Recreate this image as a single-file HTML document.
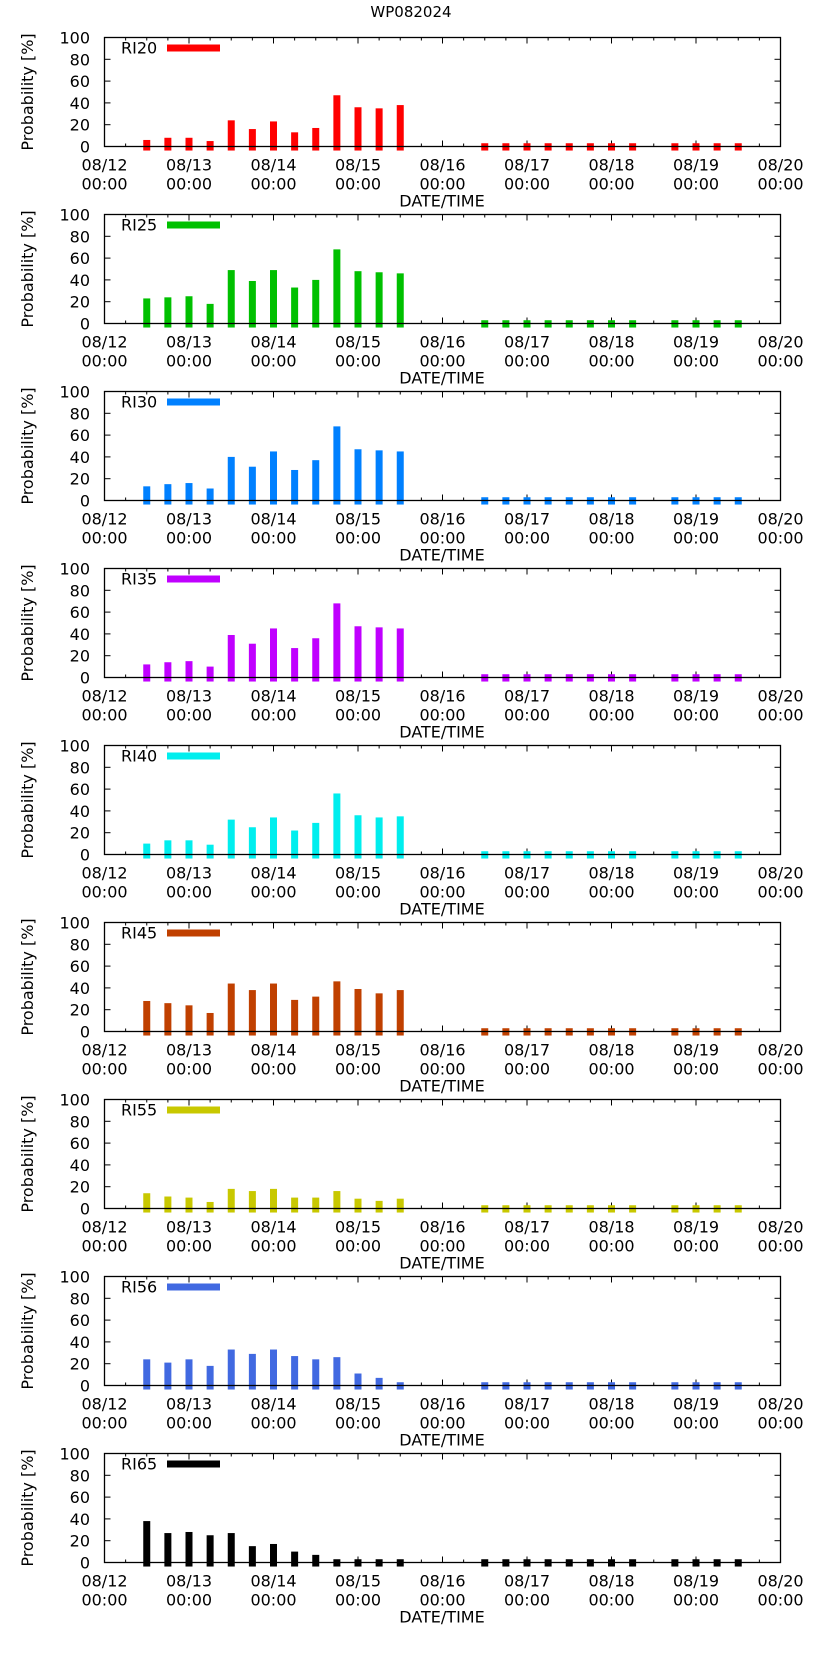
<!DOCTYPE html>
<html><head><meta charset="utf-8"><style>
html,body{margin:0;padding:0;background:#fff;width:822px;height:1653px;overflow:hidden}
svg{display:block;font-family:"DejaVu Sans","Liberation Sans",sans-serif}
</style></head><body>
<svg id="chart" width="822" height="1653" xmlns="http://www.w3.org/2000/svg">
<text x="411" y="17" text-anchor="middle" font-size="15">WP082024</text>
</svg>
<script>
const seriesNames = ["RI20","RI25","RI30","RI35","RI40","RI45","RI55","RI56","RI65"];
const seriesColors = ["#ff0000","#00c000","#0080ff","#c000ff","#00eeee","#c04000","#c8c800","#4169e1","#000000"];
const dayLabels = ["08/12","08/13","08/14","08/15","08/16","08/17","08/18","08/19","08/20"];
const yTicks = [0,20,40,60,80,100];
// bar times in days since 08/12 00:00
const barTimes = [0.5,0.75,1,1.25,1.5,1.75,2,2.25,2.5,2.75,3,3.25,3.5,4.5,4.75,5,5.25,5.5,5.75,6,6.25,6.75,7,7.25,7.5];
const lateVals = [3,3,3,3,3,3,3,3,3,3,3,3];
const ri20 = [6,8,8,5,24,16,23,13,17,47,36,35,38];
const ri25 = [23,24,25,18,49,39,49,33,40,68,48,47,46];
const ri30 = [13,15,16,11,40,31,45,28,37,68,47,46,45];
const ri35 = [12,14,15,10,39,31,45,27,36,68,47,46,45];
const ri40 = [10,13,13,9,32,25,34,22,29,56,36,34,35];
const ri45 = [28,26,24,17,44,38,44,29,32,46,39,35,38];
const ri55 = [14,11,10,6,18,16,18,10,10,16,9,7,9];
const ri56 = [24,21,24,18,33,29,33,27,24,26,11,7,3];
const ri65 = [38,27,28,25,27,15,17,10,7,3,3,3,3];
const allSeries = [ri20,ri25,ri30,ri35,ri40,ri45,ri55,ri56,ri65];

const NS="http://www.w3.org/2000/svg";
const svg=document.getElementById('chart');
const X0=104.5,X1=780.5,PH=109,PITCH=177,TOP0=37.5;
function mk(tag,attrs,parent){const e=document.createElementNS(NS,tag);for(const k in attrs)e.setAttribute(k,attrs[k]);(parent||svg).appendChild(e);return e;}
const xs=d=>X0+(X1-X0)*d/8;

allSeries.forEach((early,p)=>{
  const top=TOP0+p*PITCH, bot=top+PH;
  const ys=v=>bot-PH*v/100;
  const g=mk('g',{});
  
  
  yTicks.forEach(t=>{
    const y=ys(t);
    mk('line',{x1:X0,x2:X0+6,y1:y,y2:y,stroke:'#000'},g);
    mk('line',{x1:X1,x2:X1-6,y1:y,y2:y,stroke:'#000'},g);
    const tl=mk('text',{x:90,y:y+6,'text-anchor':'end','font-size':16},g);
    tl.textContent=t;
    
    
  });
  for(let q=0;q<=32;q++){
    const x=xs(q/4), len=q%4===0?6:3;
    mk('line',{x1:x,x2:x,y1:bot,y2:bot-len,stroke:'#000'},g);
    mk('line',{x1:x,x2:x,y1:top,y2:top+len,stroke:'#000'},g);
  }
  const vals=early.concat(lateVals);
  vals.forEach((v,i)=>{
    const x=xs(barTimes[i]);
    const y=ys(v), yb=ys(-3.7);
    const r=mk('rect',{x:x-3.5,y:y,width:7,height:yb-y,fill:seriesColors[p]},g);
    
    
  });
  const f=mk('rect',{x:X0,y:top,width:X1-X0,height:PH,fill:'none',stroke:'#000','stroke-width':1.3},g);
  
  
  dayLabels.forEach((d,i)=>{
    const x=xs(i);
    const a=mk('text',{x:x,y:bot+24,'text-anchor':'middle','font-size':16},g);
    a.textContent=d;
    
    
    const b=mk('text',{x:x,y:bot+43,'text-anchor':'middle','font-size':16},g);
    b.textContent='00:00';
    
    
  });
  const xt=mk('text',{x:442,y:bot+60,'text-anchor':'middle','font-size':16},g);
  xt.textContent='DATE/TIME';
  
  
  const yt=mk('text',{x:0,y:0,'text-anchor':'middle','font-size':16,transform:'translate(33,'+(top+PH/2)+') rotate(-90)'},g);
  yt.textContent='Probability [%]';
  
  
  const lt=mk('text',{x:121,y:top+16,'font-size':16},g);
  lt.textContent=seriesNames[p];
  
  
  const ls=mk('rect',{x:167,y:top+7,width:53,height:7,fill:seriesColors[p]},g);
  
  
});
</script>
</body></html>
